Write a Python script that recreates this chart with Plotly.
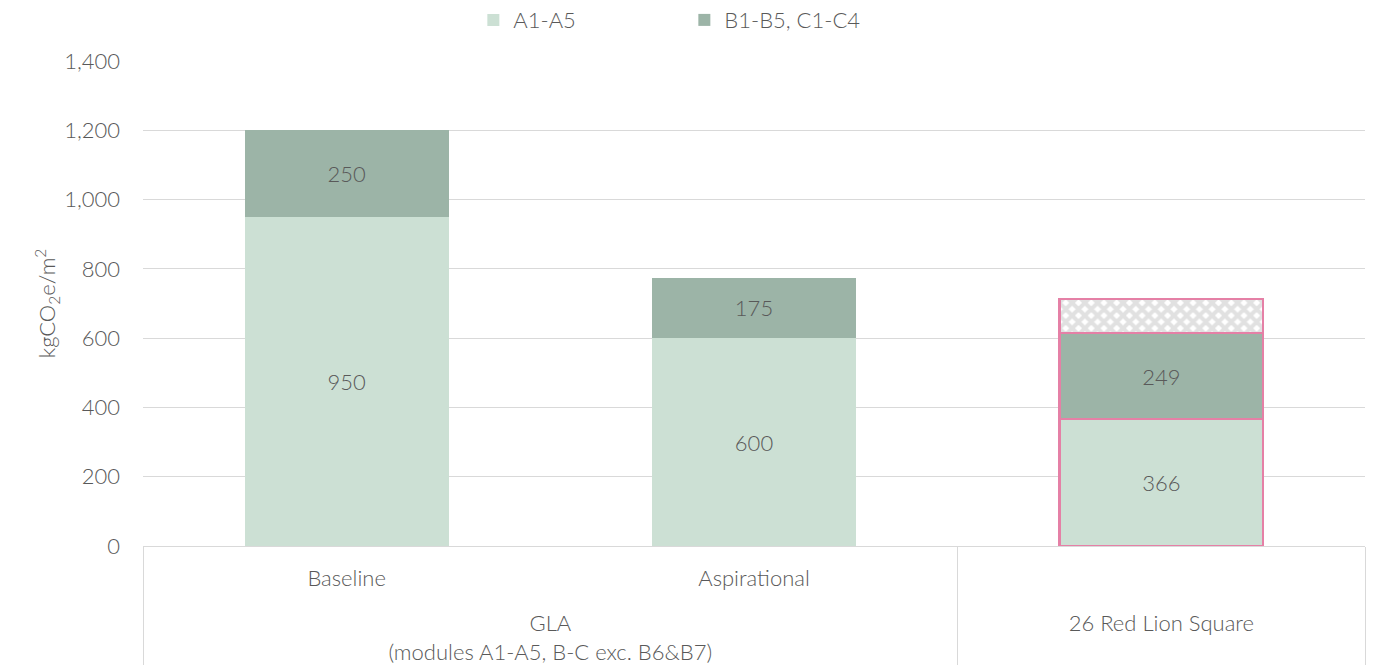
import plotly.graph_objects as go

outer = ["<br>GLA<br>(modules A1-A5, B-C exc. B6&B7)", "<br>GLA<br>(modules A1-A5, B-C exc. B6&B7)", "<br>26 Red Lion Square"]
inner = ["Baseline", "Aspirational", " "]
a1_a5 = [950, 600, 366]
b_c = [250, 175, 249]
extra = [None, None, 98]

light = "#CCE0D4"
dark = "#9CB4A7"
pink = "#E580A6"
txt = "#595959"
font = "Lato"
fs = 22

line_w = [0, 0, 2.5]
line_c = ["rgba(0,0,0,0)", "rgba(0,0,0,0)", pink]

fig = go.Figure()
fig.add_trace(go.Bar(x=[outer, inner], y=a1_a5, name="A1-A5", marker=dict(color=light, line=dict(width=line_w, color=line_c)),
                     text=a1_a5, textposition="inside", insidetextanchor="middle",
                     textfont=dict(color=txt, size=fs, family=font, weight=300)))
fig.add_trace(go.Bar(x=[outer, inner], y=b_c, name="B1-B5, C1-C4", marker=dict(color=dark, line=dict(width=line_w, color=line_c)),
                     text=b_c, textposition="inside", insidetextanchor="middle",
                     textfont=dict(color=txt, size=fs, family=font, weight=300)))
fig.add_trace(go.Bar(x=[outer, inner], y=extra, name="extra", showlegend=False, hoverinfo="skip",
                     marker=dict(color="white", line=dict(width=line_w, color=line_c),
                                 pattern=dict(shape="x", fgcolor="#C4C4C4", bgcolor="white", size=9, solidity=0.7))))

fig.update_layout(
    barmode="stack", bargap=0.5,
    width=1383, height=670,
    margin=dict(l=143, r=18, t=61, b=124, autoexpand=False),
    paper_bgcolor="white", plot_bgcolor="white",
    font=dict(family=font, color=txt, size=fs, weight=300),
    legend=dict(orientation="h", x=0.443, xanchor="center", yref="container", y=0.97, yanchor="middle",
                font=dict(size=fs, color=txt, family=font, weight=300), entrywidth=166, traceorder="normal"),
    uniformtext=dict(minsize=10, mode="show"),
)
fig.update_yaxes(range=[0, 1400], dtick=200, tickformat=",", gridcolor="#D9D9D9", gridwidth=1.3,
                 showline=False, zeroline=False, tickfont=dict(size=fs, color=txt, family=font, weight=300),
                 ticks="", ticklabelstandoff=22,
                 title=dict(text="kgCO<sub>2</sub>e/m<sup>2</sup>", font=dict(size=fs, color=txt, family=font, weight=300), standoff=2))
fig.update_xaxes(type="multicategory", showline=True, linecolor="#D9D9D9", linewidth=1.3,
                 showdividers=True, dividercolor="#D9D9D9", dividerwidth=1.3, ticklabelstandoff=12,
                 tickfont=dict(size=fs, color=txt, family=font, weight=300), automargin=False)

fig.write_html("out.html")
